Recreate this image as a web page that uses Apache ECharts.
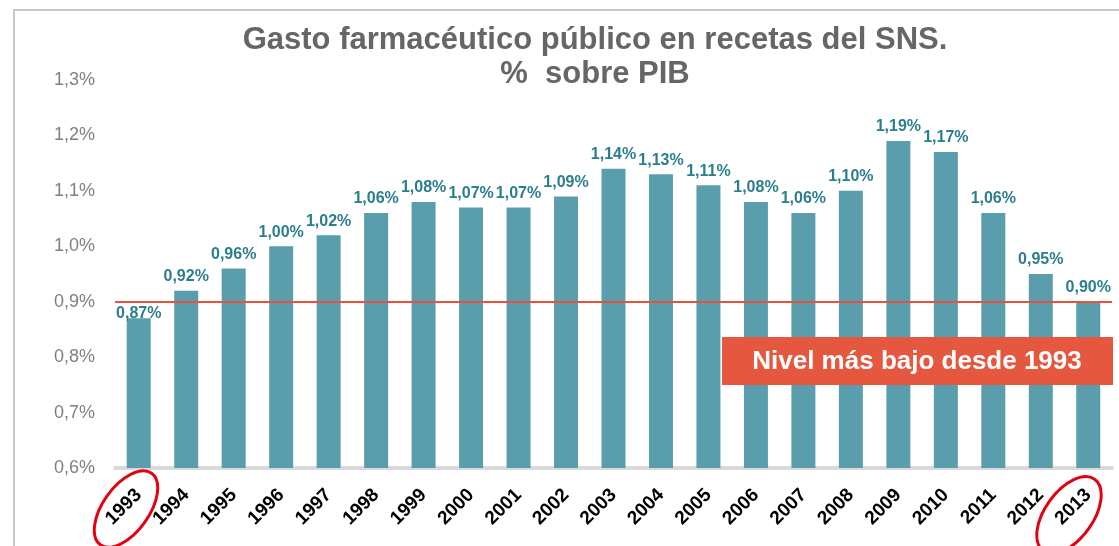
<!DOCTYPE html>
<html>
<head>
<meta charset="utf-8">
<script src="https://cdn.jsdelivr.net/npm/echarts@6/dist/echarts.min.js"></script>
<style>
  html, body { margin: 0; padding: 0; background: #fff; }
  #main { width: 1119px; height: 546px; }
</style>
</head>
<body>
<div id="main"></div>
<script>
// datos
var years = ['1993', '1994', '1995', '1996', '1997', '1998', '1999', '2000', '2001', '2002', '2003',
  '2004', '2005', '2006', '2007', '2008', '2009', '2010', '2011', '2012', '2013'];
var gastoPIB = [0.87, 0.92, 0.96, 1.00, 1.02, 1.06, 1.08, 1.07, 1.07, 1.09, 1.14,
  1.13, 1.11, 1.08, 1.06, 1.10, 1.19, 1.17, 1.06, 0.95, 0.90];
var yTicks = [0.6, 0.7, 0.8, 0.9, 1.0, 1.1, 1.2, 1.3];
var nivelMinimo = 0.9;

var chart = echarts.init(document.getElementById('main'));

function pct(v, d) {
  return v.toFixed(d).replace('.', ',') + '%';
}

// la etiqueta de 1993 va pegada a la barra (por la línea roja)
var barData = gastoPIB.map(function (v, i) {
  if (i === 0) return { value: v, label: { distance: -3 } };
  return v;
});

var option = {
  backgroundColor: '#fff',
  textStyle: { fontFamily: 'Liberation Sans, Arial, sans-serif' },
  title: {
    text: 'Gasto farmacéutico público en recetas del SNS.\n%  sobre PIB',
    left: 590,
    textAlign: 'center',
    top: 18,
    textStyle: {
      fontSize: 31,
      fontWeight: 'bold',
      color: '#666666',
      lineHeight: 34
    }
  },
  grid: { left: 115, right: 7, top: 80, bottom: 78 },
  xAxis: {
    type: 'category',
    data: years,
    axisLine: { lineStyle: { color: '#d9d9d9', width: 4 } },
    axisTick: { show: false },
    axisLabel: {
      interval: 0,
      rotate: 45,
      margin: 24,
      color: '#000',
      fontSize: 19,
      fontWeight: 'bold'
    }
  },
  yAxis: {
    type: 'value',
    min: yTicks[0],
    max: yTicks[yTicks.length - 1],
    interval: 0.1,
    splitLine: { show: false },
    axisLine: { show: false },
    axisTick: { show: false },
    axisLabel: {
      margin: 20,
      color: '#808080',
      fontSize: 18,
      formatter: function (v) { return pct(v, 1); }
    }
  },
  series: [{
    type: 'bar',
    data: barData,
    barWidth: 24,
    itemStyle: { color: '#5a9dad' },
    label: {
      show: true,
      position: 'top',
      distance: 6,
      color: '#2b7e8d',
      fontSize: 16,
      fontWeight: 'bold',
      formatter: function (p) { return pct(p.value, 2); }
    },
    markLine: {
      silent: true,
      symbol: 'none',
      label: { show: false },
      lineStyle: { color: '#e8513a', width: 2, type: 'solid' },
      data: [{ yAxis: nivelMinimo }]
    }
  }],
  graphic: [
    {
      type: 'rect',
      shape: { x: 14, y: 10, width: 1200, height: 600 },
      style: { fill: null, stroke: '#c8c8c8', lineWidth: 2 },
      z: 0
    },
    {
      type: 'rect',
      shape: { x: 722, y: 337, width: 391, height: 48 },
      style: { fill: '#e5573e' },
      z: 100
    },
    {
      type: 'text',
      x: 917,
      y: 362,
      style: {
        text: 'Nivel más bajo desde 1993',
        fill: '#fff',
        font: 'bold 26px Liberation Sans, Arial, sans-serif',
        textAlign: 'center',
        textVerticalAlign: 'middle'
      },
      z: 101
    },
    {
      type: 'ellipse',
      x: 126, y: 509,
      rotation: 0.95,
      shape: { cx: 0, cy: 0, rx: 44, ry: 23 },
      style: { fill: null, stroke: '#e3000f', lineWidth: 3 },
      z: 100
    },
    {
      type: 'ellipse',
      x: 1069, y: 515,
      rotation: 0.95,
      shape: { cx: 0, cy: 0, rx: 44, ry: 24 },
      style: { fill: null, stroke: '#e3000f', lineWidth: 3 },
      z: 100
    }
  ]
};

chart.setOption(option);
</script>
</body>
</html>
